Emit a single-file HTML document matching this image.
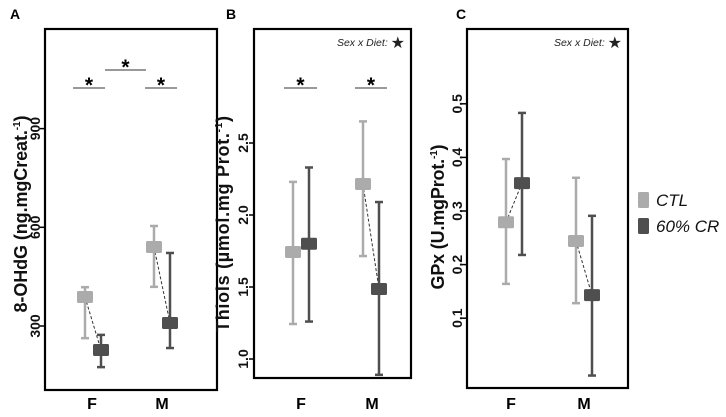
<!DOCTYPE html>
<html><head><meta charset="utf-8"><style>
body{margin:0;background:#fff;}
svg{display:block;font-family:"Liberation Sans",sans-serif;}
</style></head><body>
<svg id="fig" width="726" height="417" viewBox="0 0 726 417"></svg>
<script>
// Panel A: 8-OHdG
const groupsA = ["F","M"];
const ctlA = [388, 540], ctlA_hi = [418, 604], ctlA_lo = [263, 419];
const crA = [227, 309], crA_hi = [273, 522], crA_lo = [175, 233];
const ticksA = [300, 600, 900];
// Panel B: Thiols
const ctlB = [1.743, 2.215], ctlB_hi = [2.23, 2.65], ctlB_lo = [1.243, 1.715];
const crB = [1.80, 1.486], crB_hi = [2.33, 2.09], crB_lo = [1.26, 0.89];
const ticksB = ["1.0","1.5","2.0","2.5"];
// Panel C: GPx
const ctlC = [0.279, 0.244], ctlC_hi = [0.397, 0.362], ctlC_lo = [0.164, 0.128];
const crC = [0.352, 0.143], crC_hi = [0.483, 0.291], crC_lo = [0.218, -0.007];
const ticksC = ["0.1","0.2","0.3","0.4","0.5"];

const NS="http://www.w3.org/2000/svg";
const svg=document.getElementById('fig');
function el(tag,attrs,parent){const e=document.createElementNS(NS,tag);for(const k in attrs)e.setAttribute(k,attrs[k]);(parent||svg).appendChild(e);return e;}
const LIGHT="#ababab", DARK="#4f4f4f";

function panel(cfg){
  const g=el('g',{});
  
  
  const y=v=>cfg.y0+(v-cfg.v0)*cfg.k;
  const box=el('rect',{x:cfg.x1,y:cfg.top,width:cfg.x2-cfg.x1,height:cfg.bot-cfg.top,fill:'none',stroke:'#000','stroke-width':2.2},g);
  
  
  const pl=el('text',{x:cfg.letterX,y:19,'font-size':14,'font-weight':'bold'},g);pl.textContent=cfg.letter;
  
  
  cfg.ticks.forEach(t=>{
    const v=parseFloat(t), yy=y(v);
    const tk=el('line',{x1:cfg.x1-5,x2:cfg.x1,y1:yy,y2:yy,stroke:'#000','stroke-width':1.5},g);
    
    
    const tl=el('text',{x:0,y:0,'font-size':14,'font-weight':'bold','text-anchor':'middle',fill:'#111',transform:`translate(${cfg.tickX},${yy}) rotate(-90)`},g);
    tl.textContent=t;
    
    
  });
  const yt=el('text',{x:0,y:0,'font-size':18,'font-weight':'bold','text-anchor':'middle',fill:'#111',textLength:cfg.titleLen,lengthAdjust:'spacing',transform:`translate(${cfg.titleX},${cfg.titleY}) rotate(-90)`},g);
  yt.innerHTML=cfg.title;
  
  
  groupsA.forEach((gname,i)=>{
    const cx=cfg.cx[i];
    const xl=cx-8, xr=cx+8;
    const dl=el('line',{x1:xl,y1:y(cfg.ctl[i]),x2:xr,y2:y(cfg.cr[i]),stroke:'#333','stroke-width':1,'stroke-dasharray':'3,2'},g);
    
    
    [[xl,cfg.ctl,cfg.ctlHi,cfg.ctlLo,LIGHT,'ctl'],[xr,cfg.cr,cfg.crHi,cfg.crLo,DARK,'cr']].forEach(([x,m,hi,lo,c,s])=>{
      const w=el('line',{x1:x,x2:x,y1:y(hi[i]),y2:y(lo[i]),stroke:c,'stroke-width':2.5},g);
      
      
      [hi[i],lo[i]].forEach(v=>{const cp=el('line',{x1:x-4,x2:x+4,y1:y(v),y2:y(v),stroke:c,'stroke-width':2.5},g);
        
        });
      const r=el('rect',{x:x-8,y:y(m[i])-6,width:16,height:12,rx:1.5,fill:c},g);
      
      
    });
    const cl=el('text',{x:cfg.labX[i],y:409,'font-size':16,'font-weight':'bold','text-anchor':'middle'},g);
    cl.textContent=gname;
    
    
  });
  (cfg.sig||[]).forEach(([a,b,yy])=>{
    const sl=el('line',{x1:a,x2:b,y1:yy,y2:yy,stroke:'#333','stroke-width':1},g);
    
    
    const st=el('text',{x:(a+b)/2,y:yy+4,'font-size':21,'font-weight':'bold','text-anchor':'middle'},g);
    st.textContent='*';
    
    
  });
  if(cfg.inter){
    const it=el('text',{x:cfg.x2-6,y:46,'font-size':10.5,'font-style':'italic','text-anchor':'end',fill:'#222'},g);
    it.innerHTML='Sex x Diet: <tspan font-size="16" font-style="normal" dy="2">★</tspan>';
    
    
  }
}

panel({name:'panel-a',letter:'A',letterX:10,x1:45,x2:217,top:29,bot:390,y0:326,v0:300,k:-0.329,
  ticks:ticksA.map(String),tickX:40,title:'8-OHdG  (ng.mgCreat.<tspan font-size="10" dy="-7">-1</tspan><tspan dy="7">)</tspan>',titleX:27,titleY:214,titleLen:197,
  cx:[93,162],labX:[92,162],ctl:ctlA,ctlHi:ctlA_hi,ctlLo:ctlA_lo,cr:crA,crHi:crA_hi,crLo:crA_lo,
  sig:[[73,105,88],[145,177,88],[105,146,70]]});
panel({name:'panel-b',letter:'B',letterX:226,x1:254,x2:411,top:29,bot:378,y0:215,v0:2.0,k:-144,
  ticks:ticksB,tickX:248,title:'Thiols (µmol.mg Prot.<tspan font-size="10" dy="-7">-1</tspan><tspan dy="7">)</tspan>',titleX:229,titleY:224,titleLen:216,
  cx:[301,371],labX:[301,372],ctl:ctlB,ctlHi:ctlB_hi,ctlLo:ctlB_lo,cr:crB,crHi:crB_hi,crLo:crB_lo,
  sig:[[284,317,88],[355,387,88]],inter:true});
panel({name:'panel-c',letter:'C',letterX:456,x1:467,x2:628,top:29,bot:388,y0:211,v0:0.3,k:-536,
  ticks:ticksC,tickX:462,title:'GPx (U.mgProt.<tspan font-size="10" dy="-7">-1</tspan><tspan dy="7">)</tspan>',titleX:444,titleY:217,titleLen:145,
  cx:[514,584],labX:[511,584],ctl:ctlC,ctlHi:ctlC_hi,ctlLo:ctlC_lo,cr:crC,crHi:crC_hi,crLo:crC_lo,
  sig:[],inter:true});

const lg=el('g',{});


[["CTL",LIGHT,200],["60% CR",DARK,226]].forEach(([t,c,yy])=>{
  const r=el('rect',{x:638,y:yy-8,width:11,height:16,rx:1.5,fill:c},lg);
  
  
  const tx=el('text',{x:656,y:yy+6,'font-size':17,'font-style':'italic',fill:'#111'},lg);
  tx.textContent=t;
  
  
});
</script>
</body></html>
